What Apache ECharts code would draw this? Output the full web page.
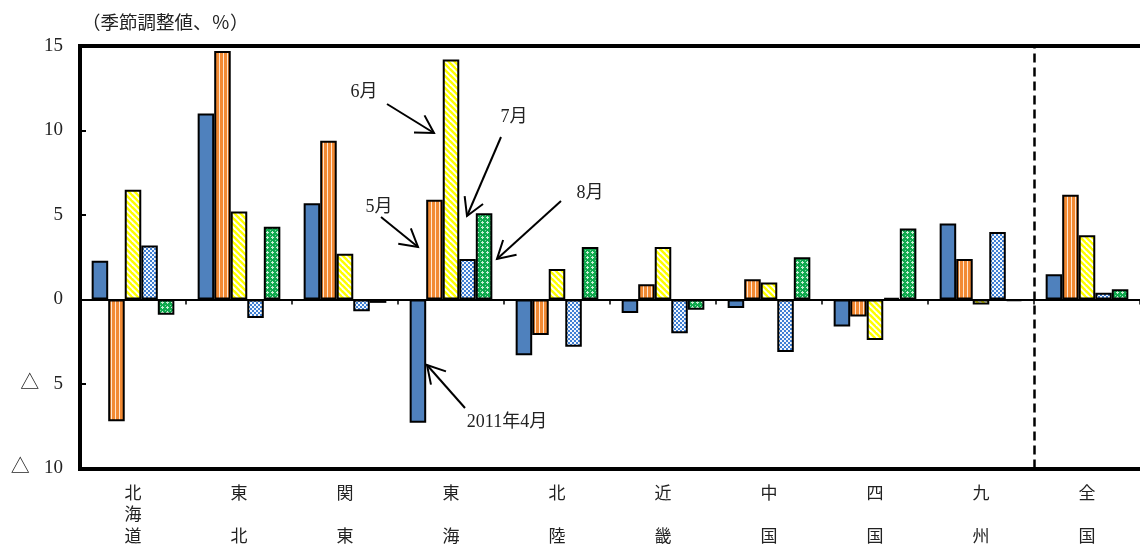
<!DOCTYPE html>
<html>
<head>
<meta charset="utf-8">
<script src="https://cdn.jsdelivr.net/npm/echarts@6/dist/echarts.min.js"></script>
<style>
  html, body { margin: 0; padding: 0; background: #fff; }
  #chart { width: 1140px; height: 546px; }
</style>
</head>
<body>
<div id="chart"></div>
<script>
// Regional month-on-month change (seasonally adjusted, %)
const regions = ['北海道', '東北', '関東', '東海', '北陸', '近畿', '中国', '四国', '九州', '全国'];
const monthNames = ['2011年4月', '5月', '6月', '7月', '8月'];
const apr = [2.3, 11.0, 5.7, -7.3, -3.3, -0.8, -0.5, -1.6, 4.5, 1.5];
const may = [-7.2, 14.7, 9.4, 5.9, -2.1, 0.9, 1.2, -1.0, 2.4, 6.2];
const jun = [6.5, 5.2, 2.7, 14.2, 1.8, 3.1, 1.0, -2.4, -0.3, 3.8];
const jul = [3.2, -1.1, -0.7, 2.4, -2.8, -2.0, -3.1, 0.1, 4.0, 0.4];
const aug = [-0.9, 4.3, -0.2, 5.1, 3.1, -0.6, 2.5, 4.2, -0.1, 0.6];
const yTicks = { min: -10, max: 15, step: 5 };

const serif = '"Liberation Serif", "Noto Sans CJK JP", serif';
const cjk = '"Noto Sans CJK JP", sans-serif';
const frame = { color: '#000', width: 4, cap: 'square' };

// Small tiles used as bar fills
function tile(w, h, draw) {
  const c = document.createElement('canvas');
  c.width = w; c.height = h;
  draw(c.getContext('2d'));
  return { image: c, repeat: 'repeat' };
}
const fillVStripe = tile(4, 4, g => {
  g.fillStyle = '#F28A34'; g.fillRect(0, 0, 4, 4);
  g.fillStyle = '#FFE6D0'; g.fillRect(3, 0, 1, 4);
});
const fillDiag = tile(6, 6, g => {
  g.fillStyle = '#FFFF00'; g.fillRect(0, 0, 6, 6);
  g.strokeStyle = '#FFFFFF'; g.lineWidth = 1.8;
  for (let k = -1; k <= 1; k++) {
    g.beginPath(); g.moveTo(k * 6 - 6, -6); g.lineTo(k * 6 + 12, 12); g.stroke();
  }
});
const fillCheck = tile(4, 4, g => {
  g.fillStyle = '#3F7FD4'; g.fillRect(0, 0, 4, 4);
  g.fillStyle = '#F2F7FD'; g.fillRect(0, 0, 2, 2); g.fillRect(2, 2, 2, 2);
});
const fillGreen = tile(5, 5, g => {
  g.fillStyle = '#10A94E'; g.fillRect(0, 0, 5, 5);
  g.fillStyle = '#C8F0D6';
  g.fillRect(2, 1, 1, 3); g.fillRect(1, 2, 3, 1);
  g.fillStyle = '#7FD6A2'; g.fillRect(0, 0, 1, 1);
});

const fills = ['#4F81BD', fillVStripe, fillDiag, fillCheck, fillGreen];
const values = [apr, may, jun, jul, aug];

const chart = echarts.init(document.getElementById('chart'), null, { renderer: 'canvas' });

const barSeries = values.map((v, i) => ({
  name: monthNames[i],
  type: 'bar',
  xAxisIndex: 0,
  yAxisIndex: 0,
  data: v,
  barGap: '0%',
  barCategoryGap: '22%',
  itemStyle: { color: fills[i], borderColor: '#000', borderWidth: 2 },
  z: 3
}));

// Open arrowhead annotation: label text plus a shaft with a V head
function arrow(x1, y1, x2, y2) {
  const a = Math.atan2(y1 - y2, x1 - x2);
  const L = 20, s = Math.PI / 6;
  return [
    { type: 'polyline', z: 20, shape: { points: [[x1, y1], [x2, y2]] }, style: { stroke: '#000', lineWidth: 2, fill: null } },
    { type: 'polyline', z: 20, shape: { points: [
      [x2 + L * Math.cos(a - s), y2 + L * Math.sin(a - s)], [x2, y2],
      [x2 + L * Math.cos(a + s), y2 + L * Math.sin(a + s)]] },
      style: { stroke: '#000', lineWidth: 2, fill: null } }
  ];
}
function note(text, x, y) {
  return { type: 'text', z: 20, style: { text, x, y, fill: '#222', fontSize: 18, fontFamily: serif, align: 'center', verticalAlign: 'middle' } };
}

const graphics = [
  { type: 'text', z: 20, style: { text: '（季節調整値、％）', x: 82, y: 24, fill: '#222', fontSize: 18.5, fontFamily: serif, align: 'left', verticalAlign: 'middle' } },
  note('6月', 364, 92), ...arrow(387, 104, 434, 133),
  note('5月', 379, 207), ...arrow(381, 217, 418, 247),
  note('7月', 514, 117), ...arrow(501, 137, 467, 216),
  note('8月', 590, 193), ...arrow(561, 201, 497, 259),
  note('2011年4月', 507, 422), ...arrow(465, 408, 427, 365)
];

chart.setOption({
  animation: false,
  backgroundColor: '#fff',
  grid: { left: 80, top: 46, right: 0, bottom: 76, show: false },
  xAxis: [
    {
      // region names and the bottom frame edge
      type: 'category', data: regions, position: 'bottom',
      axisLine: { show: true, onZero: false, lineStyle: frame }, axisTick: { show: false },
      axisLabel: {
        color: '#222', fontSize: 17, lineHeight: 21.5, margin: 13, fontFamily: cjk, interval: 0,
        formatter: s => s.length === 2 ? s[0] + '\n\n' + s[1] : s.split('').join('\n')
      }
    },
    {
      // zero baseline with boundary ticks
      type: 'category', data: regions, position: 'bottom',
      axisLine: { show: true, onZero: true, onZeroAxisIndex: 0, lineStyle: { color: '#000', width: 2 } },
      axisTick: { show: true, length: 5, lineStyle: { color: '#000', width: 1.5 } },
      axisLabel: { show: false }
    },
    {
      // top frame edge; also carries the separator position
      type: 'value', min: 0, max: regions.length, position: 'top',
      axisLine: { show: true, onZero: false, lineStyle: frame },
      axisTick: { show: false }, axisLabel: { show: false }, splitLine: { show: false }
    }
  ],
  yAxis: {
    type: 'value', min: yTicks.min, max: yTicks.max, interval: yTicks.step,
    axisLine: { show: true, onZero: false, lineStyle: frame },
    axisTick: { show: true, inside: true, length: 6, lineStyle: { color: '#000', width: 2 } },
    splitLine: { show: false },
    axisLabel: {
      color: '#222', fontSize: 19, margin: 17, fontFamily: serif,
      formatter: v => v < 0 ? '△\u2002 ' + (-v) : String(v)
    }
  },
  series: [
    ...barSeries,
    {
      // dashed separator between the regions and the national total
      type: 'line', xAxisIndex: 2, yAxisIndex: 0, data: [], silent: true,
      markLine: {
        symbol: 'none', silent: true, label: { show: false },
        lineStyle: { color: '#000', type: [9, 5], width: 2.5 },
        data: [{ xAxis: regions.length - 1 }]
      }
    }
  ],
  graphic: graphics
});
</script>
</body>
</html>
